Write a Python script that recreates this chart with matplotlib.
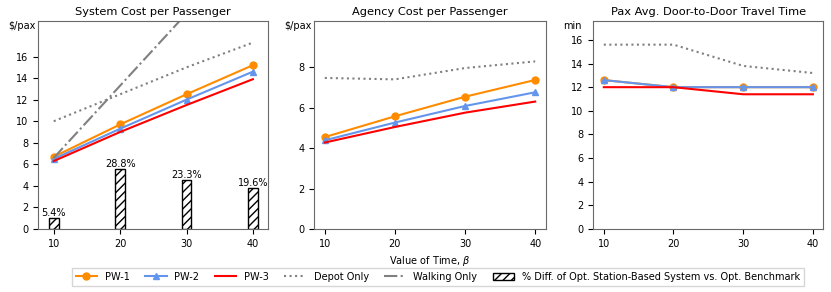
import numpy as np
import matplotlib
matplotlib.use("Agg")
import matplotlib.pyplot as plt

beta = [10, 20, 30, 40]

# system cost per passenger ($/pax)
sys_pw1 = [6.7, 9.7, 12.5, 15.2]
sys_pw2 = [6.5, 9.3, 12.0, 14.6]
sys_pw3 = [6.3, 9.0, 11.5, 13.9]
sys_depot = [10.0, 12.5, 15.0, 17.3]
sys_walk = [6.6, 13.3, 20.0, 26.6]
pct_diff = [5.4, 28.8, 23.3, 19.6]

# agency cost per passenger ($/pax)
ag_pw1 = [4.55, 5.58, 6.55, 7.38]
ag_pw2 = [4.39, 5.27, 6.09, 6.77]
ag_pw3 = [4.28, 5.05, 5.76, 6.31]
ag_depot = [7.48, 7.41, 7.97, 8.30]

# door-to-door travel time (min)
tt_pw1 = [12.6, 12.0, 12.0, 12.0]
tt_pw2 = [12.6, 12.0, 12.0, 12.0]
tt_pw3 = [12.0, 12.0, 11.4, 11.4]
tt_depot = [15.6, 15.6, 13.8, 13.2]

bar_scale = 0.193  # bar height per % point on the $/pax axis

fs_tick = 7
fs_title = 8.2

fig = plt.figure(figsize=(8.31, 2.92), dpi=100)
bottom, height = 0.216, 0.712
ax1 = fig.add_axes([0.0461, bottom, 0.2768, height])
ax2 = fig.add_axes([0.3782, bottom, 0.2785, height])
ax3 = fig.add_axes([0.7140, bottom, 0.2768, height])


def draw_lines(ax, pw1, pw2, pw3, depot):
    ax.plot(beta, pw1, '-o', color='darkorange', ms=5, label='PW-1')
    ax.plot(beta, pw2, '-^', color='cornflowerblue', ms=4.5, label='PW-2')
    ax.plot(beta, pw3, '-', color='red', label='PW-3')
    ax.plot(beta, depot, ':', color='grey', label='Depot Only')


draw_lines(ax1, sys_pw1, sys_pw2, sys_pw3, sys_depot)
ax1.plot(beta, sys_walk, '-.', color='grey', label='Walking Only')
bar_h = [p * bar_scale for p in pct_diff]
bars = ax1.bar(beta, bar_h, width=1.5, color='white', edgecolor='black',
               hatch='////', lw=1.0,
               label='% Diff. of Opt. Station-Based System vs. Opt. Benchmark')
for b, p in zip(bars, pct_diff):
    ax1.text(b.get_x() + b.get_width() / 2, b.get_height(), f"{p}%",
             ha='center', va='bottom', fontsize=fs_tick)
ax1.set_ylim(0, 19.3)
ax1.set_yticks(range(0, 17, 2))
ax1.set_title("System Cost per Passenger", fontsize=fs_title, pad=4)

draw_lines(ax2, ag_pw1, ag_pw2, ag_pw3, ag_depot)
ax2.set_ylim(0, 10.3)
ax2.set_yticks(range(0, 9, 2))
ax2.set_title("Agency Cost per Passenger", fontsize=fs_title, pad=4)
ax2.set_xlabel(r"Value of Time, $\beta$", fontsize=fs_tick)

draw_lines(ax3, tt_pw1, tt_pw2, tt_pw3, tt_depot)
ax3.set_ylim(0, 17.6)
ax3.set_yticks(range(0, 17, 2))
ax3.set_title("Pax Avg. Door-to-Door Travel Time", fontsize=fs_title, pad=4)

for ax, unit in [(ax1, "$/pax"), (ax2, "$/pax"), (ax3, "min")]:
    ax.set_xticks(beta)
    ax.tick_params(labelsize=fs_tick)
    ax.text(-0.13, 0.975, unit.replace("$", r"\$"), transform=ax.transAxes,
            ha='left', va='center', fontsize=fs_tick)
    for s in ax.spines.values():
        s.set_color('dimgray')

handles, labels = ax1.get_legend_handles_labels()
fig.legend(handles, labels, loc='center', bbox_to_anchor=(0.527, 0.052),
           ncol=6, fontsize=fs_tick, frameon=True, fancybox=False,
           handlelength=2.2, columnspacing=1.6)

fig.savefig("out.png", dpi=100)
